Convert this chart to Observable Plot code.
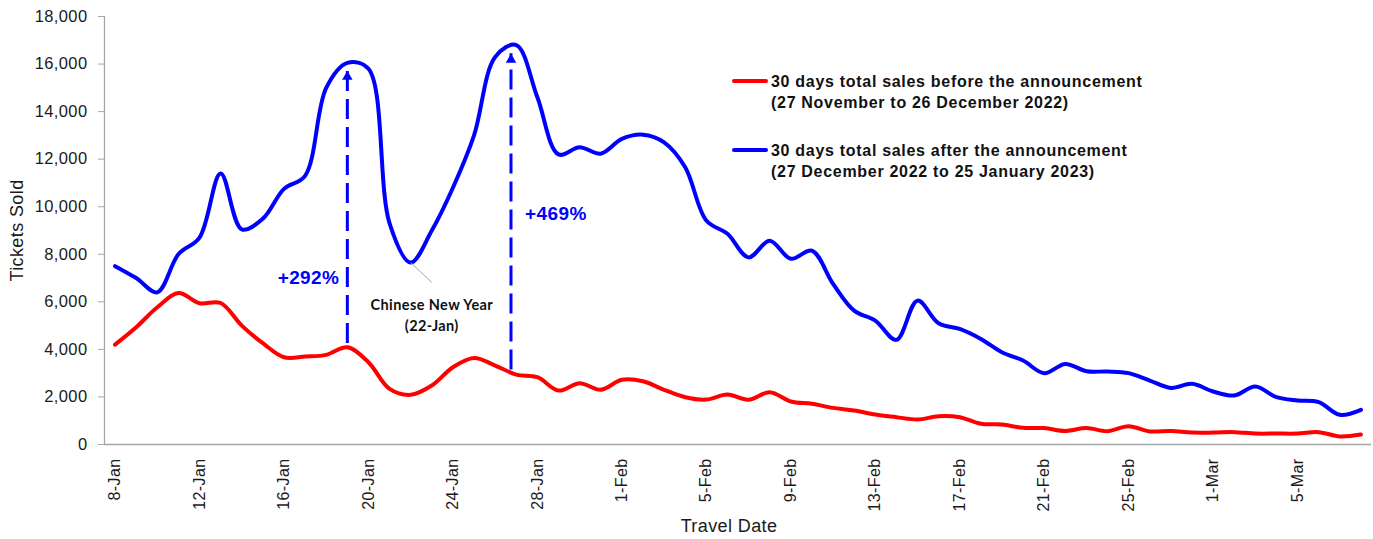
<!DOCTYPE html>
<html><head><meta charset="utf-8">
<script src="https://cdn.jsdelivr.net/npm/d3@7"></script>
<script src="https://cdn.jsdelivr.net/npm/@observablehq/plot@0.6"></script>
<style>
body{margin:0;background:#fff;}
#wrap{position:relative;width:1373px;height:539px;font-family:"Liberation Sans",Arial,sans-serif;}
#wrap svg{position:absolute;left:0;top:0;}
.leg{position:absolute;left:732px;font-weight:bold;font-size:16px;letter-spacing:0.7px;line-height:21px;color:#111;}
.leg .sw{position:absolute;left:0;top:8.5px;width:36px;height:4px;border-radius:2px;}
.leg .tx{margin-left:39px;white-space:nowrap;}
</style></head><body><div id="wrap"></div>
<script>
// ---- data ----
const startDate = "2023-01-08";
const endDate = "2023-03-08";
const seriesNames = ["30 days total sales before the announcement", "30 days total sales after the announcement"];
const seriesPeriods = ["(27 November to 26 December 2022)", "(27 December 2022 to 25 January 2023)"];
const seriesColors = ["#ff0000", "#0000ff"];
const redSales = [4200,4930,5770,6370,5940,5950,5000,4260,3670,3700,
  3770,4090,3460,2340,2090,2480,3250,3640,3320,2940,
  2830,2270,2580,2300,2720,2660,2300,1990,1890,2100,
  1880,2200,1810,1710,1540,1430,1260,1150,1050,1190,
  1150,870,840,700,690,570,690,560,770,550,
  570,500,500,520,460,460,460,520,340,420];
const blueSales = [7500,7000,6400,8000,8700,11400,9050,9500,10750,11300,
  15000,16050,15800,9300,7650,9000,10800,13000,16300,16800,
  14600,12200,12500,12230,12850,13030,12710,11660,9420,8860,
  7870,8570,7810,8150,6760,5630,5210,4400,6050,5100,
  4860,4440,3880,3530,3000,3390,3080,3070,3000,2690,
  2380,2550,2230,2060,2440,1990,1850,1780,1250,1460];
const tickLabels = ["8-Jan","12-Jan","16-Jan","20-Jan","24-Jan","28-Jan","1-Feb","5-Feb","9-Feb","13-Feb","17-Feb","21-Feb","25-Feb","1-Mar","5-Mar"];
const yTicks = [0,2000,4000,6000,8000,10000,12000,14000,16000,18000];
const arrowDates = ["2023-01-19T00:00Z", "2023-01-26T18:00Z"];
const arrowBase = [4500, 3390];
const arrowTip = [15720, 16430];
const pctLabels = ["+292%", "+469%"];
const pctValues = [7020, 9710];
const cnyText = "Chinese New Year\n(22-Jan)";
const cnyLeaderFrom = ["2023-01-22", 7650];
const cnyLeaderTo = ["2023-01-23", 6820];
const cnyTextAt = ["2023-01-23", 5485];

// ---- build ----
const parseDay = d3.utcParse("%Y-%m-%d");
const dates = d3.utcDay.range(parseDay(startDate), d3.utcDay.offset(parseDay(endDate), 1));
const rows = [];
seriesNames.forEach((s, k) => {
  const vals = k === 0 ? redSales : blueSales;
  dates.forEach((d, i) => rows.push({date: d, value: vals[i], series: s}));
});
const tickDates = tickLabels.map(s => d3.utcParse("%d-%b-%Y")(s + "-2023"));
const arrows = arrowDates.map((d, i) => ({date: new Date(d), base: arrowBase[i], tip: arrowTip[i], label: pctLabels[i], ly: pctValues[i]}));
const xDomain = [d3.utcHour.offset(dates[0], -12), d3.utcHour.offset(dates[dates.length - 1], 12)];
const axisGray = "#a6a6a6";

const chart = Plot.plot({
  width: 1373, height: 539,
  marginLeft: 104, marginRight: 2, marginTop: 16, marginBottom: 95,
  style: {fontFamily: "'Liberation Sans', Arial, sans-serif", background: "white", overflow: "visible", letterSpacing: "0.4px"},
  x: {type: "utc", domain: xDomain},
  y: {domain: [0, 18000]},
  color: {domain: seriesNames, range: seriesColors},
  marks: [
    Plot.axisY({ticks: yTicks, tickFormat: d3.format(","), tickSize: 6, tickPadding: 11, fontSize: 16.5,
      stroke: axisGray, fill: "#1a1a1a", label: null}),
    Plot.axisX({ticks: tickDates, tickFormat: d3.utcFormat("%-d-%b"), tickRotate: -90, tickSize: 0, tickPadding: 14,
      fontSize: 16, fill: "#1a1a1a", label: null}),
    Plot.ruleX([xDomain[0]], {stroke: axisGray, strokeWidth: 1.3}),
    Plot.ruleY([0], {stroke: axisGray, strokeWidth: 1.3}),
    Plot.text(["Tickets Sold"], {frameAnchor: "left", rotate: -90, dx: -87, fontSize: 18, fill: "#1a1a1a", textAnchor: "middle"}),
    Plot.text(["Travel Date"], {frameAnchor: "bottom", dx: -9, dy: 87, fontSize: 18, fill: "#1a1a1a"}),
    Plot.line(rows, {x: "date", y: "value", z: "series", stroke: "series", strokeWidth: 4, curve: "catmull-rom"}),
    Plot.link([0], {x1: () => parseDay(cnyLeaderFrom[0]), y1: () => cnyLeaderFrom[1], x2: () => parseDay(cnyLeaderTo[0]), y2: () => cnyLeaderTo[1], stroke: axisGray, strokeWidth: 1}),
    Plot.text([cnyText], {x: () => parseDay(cnyTextAt[0]), y: () => cnyTextAt[1], text: d => d, fontFamily: "Lato, 'Open Sans', sans-serif", fontWeight: "bold", fontSize: 14.5, lineHeight: 1.45, fill: "#111"}),
    Plot.ruleX(arrows, {x: "date", y1: "base", y2: "tip", stroke: "#0000ff", strokeWidth: 3, strokeDasharray: "20,8", insetTop: 6}),
    Plot.dot(arrows, {x: "date", y: "tip", symbol: "triangle", r: 3.9, fill: "#0000ff", stroke: "none", dy: 6}),
    Plot.text(arrows.slice(0, 1), {x: "date", y: "ly", text: "label", textAnchor: "end", dx: -8, fill: "#0000ff", fontWeight: "bold", fontSize: 19}),
    Plot.text(arrows.slice(1), {x: "date", y: "ly", text: "label", textAnchor: "start", dx: 14, fill: "#0000ff", fontWeight: "bold", fontSize: 19})
  ]
});
const wrap = document.getElementById("wrap");
wrap.appendChild(chart);

// legend
const legTops = [70.5, 139.5];
seriesNames.forEach((s, k) => {
  const div = document.createElement("div");
  div.className = "leg";
  div.style.top = legTops[k] + "px";
  const sw = document.createElement("div");
  sw.className = "sw"; sw.style.background = seriesColors[k];
  div.appendChild(sw);
  const t1 = document.createElement("div"); t1.className = "tx"; t1.textContent = s;
  const t2 = document.createElement("div"); t2.className = "tx"; t2.textContent = seriesPeriods[k];
  div.appendChild(t1); div.appendChild(t2);
  wrap.appendChild(div);
});
</script></body></html>
